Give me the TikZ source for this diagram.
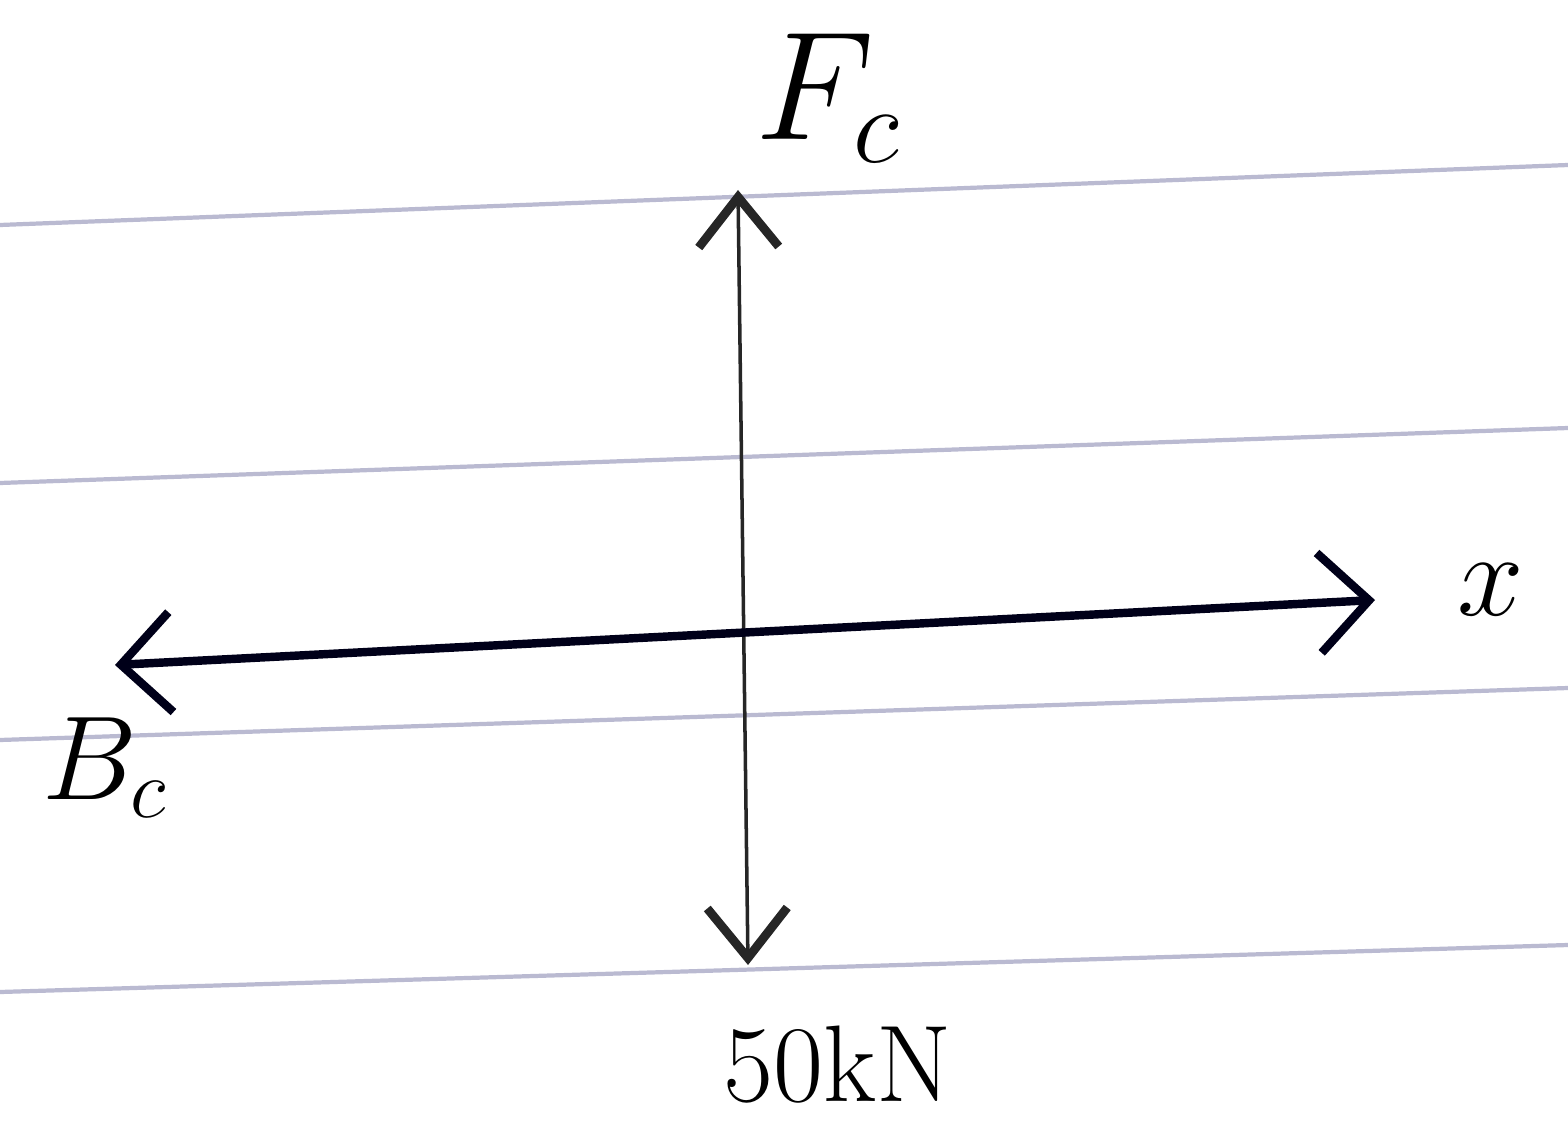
\RequirePackage{fix-cm}
\documentclass[tikz,border=0pt]{standalone}
\usetikzlibrary{arrows.meta}

\begin{document}
\begin{tikzpicture}[
    font=\fontsize{34}{38}\selectfont,
    regla/.style={line width=1.2pt,color=blue!20!gray!45},
    fuerza/.style={line width=1pt,color=black!85,
                   {Straight Barb[length=5mm,width=8mm,line width=2.5pt]}-{Straight Barb[length=5mm,width=8mm,line width=2.5pt]}},
    eje/.style={line width=2.4pt,color=black!90!blue,
                {Straight Barb[length=5mm,width=10mm]}-{Straight Barb[length=5mm,width=10mm]}}]

  \useasboundingbox (0,0) rectangle (15.68,11.28);

  % ruled paper
  \draw[regla] (0,9.03) -- (15.68,9.63);
  \draw[regla] (0,6.45) -- (15.68,7.00);
  \draw[regla] (0,3.88) -- (15.68,4.40);
  \draw[regla] (0,1.36) -- (15.68,1.83);

  \coordinate (arriba) at (7.38,9.38);
  \coordinate (abajo)  at (7.48,1.63);
  \coordinate (izq)    at (1.15,4.63);
  \coordinate (der)    at (13.75,5.28);

  \draw[fuerza] (abajo) -- (arriba);
  \draw[eje]    (izq)   -- (der);

  \node[anchor=south west] (fc)  at ([xshift=0.05cm,yshift=0.15cm]arriba) {\fontsize{44}{48}\selectfont$F_c$};
  \node[anchor=west]       (x)   at ([xshift=0.7cm,yshift=0.1cm]der)   {\fontsize{34}{38}\selectfont$x$};
  \node[anchor=north]      (bc)  at ([xshift=-0.1cm,yshift=-0.4cm]izq) {\fontsize{34}{38}\selectfont$B_c$};
  \node[anchor=north,inner sep=0pt] (kn) at ([xshift=0.9cm,yshift=-0.6cm]abajo) {\fontsize{31}{34}\selectfont 50kN};

\end{tikzpicture}
\end{document}
